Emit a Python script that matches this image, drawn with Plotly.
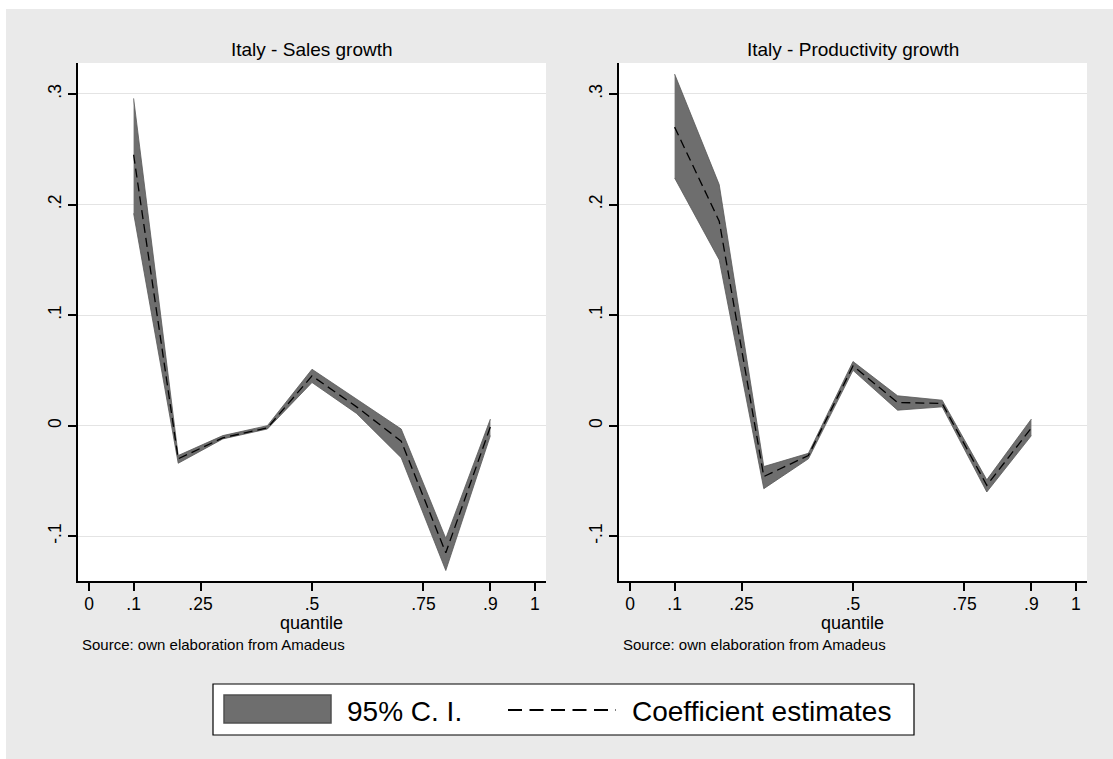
import plotly.graph_objects as go

# ---- data ----
quantiles = [0.1, 0.2, 0.3, 0.4, 0.5, 0.6, 0.7, 0.8, 0.9]

sales_est = [0.245, -0.030, -0.011, -0.002, 0.045, 0.017, -0.014, -0.115, -0.001]
sales_lo = [0.192, -0.034, -0.012, -0.003, 0.039, 0.011, -0.029, -0.131, -0.009]
sales_hi = [0.296, -0.027, -0.009, -0.000, 0.051, 0.024, -0.003, -0.102, 0.006]

prod_est = [0.270, 0.185, -0.046, -0.027, 0.054, 0.021, 0.020, -0.054, -0.002]
prod_lo = [0.224, 0.150, -0.057, -0.030, 0.050, 0.014, 0.017, -0.060, -0.009]
prod_hi = [0.318, 0.218, -0.037, -0.025, 0.058, 0.027, 0.023, -0.049, 0.006]

panel_titles = ["Italy - Sales growth", "Italy - Productivity growth"]
x_tickvals = [0, 0.1, 0.25, 0.5, 0.75, 0.9, 1]
x_ticktext = ["0", ".1", ".25", ".5", ".75", ".9", "1"]
y_tickvals = [-0.1, 0, 0.1, 0.2, 0.3]
y_ticktext = ["-.1", "0", ".1", ".2", ".3"]
legend_labels = ["95% C. I.", "Coefficient estimates"]
source_text = "Source: own elaboration from Amadeus"
x_title = "quantile"

W, H = 1113, 759
FONT = "Liberation Sans, Arial, sans-serif"
BAND = "#6e6e6e"
BAND_EDGE = "#585858"

def px_x(p):
    return p / W

def px_y(p):
    return 1 - p / H

fig = go.Figure()

panels = [
    (sales_est, sales_lo, sales_hi, "x", "y"),
    (prod_est, prod_lo, prod_hi, "x2", "y2"),
]
for est, lo, hi, xa, ya in panels:
    fig.add_trace(go.Scatter(x=quantiles, y=hi, mode="lines", xaxis=xa, yaxis=ya,
                             line=dict(color=BAND_EDGE, width=0.8), showlegend=False,
                             hoverinfo="skip"))
    fig.add_trace(go.Scatter(x=quantiles, y=lo, mode="lines", xaxis=xa, yaxis=ya,
                             fill="tonexty", fillcolor=BAND,
                             line=dict(color=BAND_EDGE, width=0.8), showlegend=False,
                             hoverinfo="skip"))
    fig.add_trace(go.Scatter(x=quantiles, y=est, mode="lines", xaxis=xa, yaxis=ya,
                             line=dict(color="black", width=1.3, dash="9px,5px"),
                             showlegend=False))

xr = [-0.0247, 1.0247]
yr = [-0.1405, 0.328]

def xaxis_def(domain):
    return dict(domain=domain, range=xr, tickvals=x_tickvals, ticktext=x_ticktext,
                showline=True, linecolor="black", linewidth=1.5, ticks="outside",
                ticklen=8, tickwidth=1.5, tickcolor="black", showgrid=False,
                zeroline=False, tickfont=dict(family=FONT, size=17.5, color="black"),
                ticklabelstandoff=-2, fixedrange=True)

def yaxis_def(domain, anchor):
    return dict(domain=domain, range=yr, tickvals=y_tickvals, ticktext=y_ticktext,
                showline=True, linecolor="black", linewidth=1.5, ticks="outside",
                ticklen=8, tickwidth=1.5, tickcolor="black", showgrid=True,
                gridcolor="#e4e4e4", gridwidth=1, zeroline=False, tickangle=-90,
                anchor=anchor,
                tickfont=dict(family=FONT, size=17.5, color="black"), fixedrange=True)

ydom = [px_y(581), px_y(63)]
left_dom = [px_x(78), px_x(546)]
right_dom = [px_x(619), px_x(1087)]

annotations = []
for title, dom in zip(panel_titles, [left_dom, right_dom]):
    annotations.append(dict(text=title, x=(dom[0] + dom[1]) / 2, y=px_y(50),
                            xref="paper", yref="paper", showarrow=False,
                            xanchor="center", yanchor="middle",
                            font=dict(family=FONT, size=19, color="black")))
    annotations.append(dict(text=x_title, x=(dom[0] + dom[1]) / 2 - px_x(1), y=px_y(623),
                            xref="paper", yref="paper", showarrow=False,
                            xanchor="center", yanchor="middle",
                            font=dict(family=FONT, size=18, color="black")))
for sx in [80, 621]:
    annotations.append(dict(text=source_text, x=px_x(sx), y=px_y(644),
                            xref="paper", yref="paper", showarrow=False,
                            xanchor="left", yanchor="middle",
                            font=dict(family=FONT, size=15, color="black")))
annotations.append(dict(text=legend_labels[0], x=px_x(345), y=px_y(711),
                        xref="paper", yref="paper", showarrow=False,
                        xanchor="left", yanchor="middle",
                        font=dict(family=FONT, size=28, color="black")))
annotations.append(dict(text=legend_labels[1], x=px_x(630), y=px_y(711),
                        xref="paper", yref="paper", showarrow=False,
                        xanchor="left", yanchor="middle",
                        font=dict(family=FONT, size=28, color="black")))

shapes = [
    # white outer strips
    dict(type="rect", xref="paper", yref="paper", x0=0, x1=1, y0=px_y(9), y1=1,
         fillcolor="white", line=dict(width=0), layer="below"),
    dict(type="rect", xref="paper", yref="paper", x0=0, x1=px_x(6), y0=0, y1=1,
         fillcolor="white", line=dict(width=0), layer="below"),
    # legend box
    dict(type="rect", xref="paper", yref="paper", x0=px_x(213), x1=px_x(914),
         y0=px_y(735), y1=px_y(684), fillcolor="white",
         line=dict(color="black", width=1.2)),
    dict(type="rect", xref="paper", yref="paper", x0=px_x(224), x1=px_x(331),
         y0=px_y(723), y1=px_y(695), fillcolor=BAND,
         line=dict(color="#505050", width=1.5)),
    dict(type="line", xref="paper", yref="paper", x0=px_x(508), x1=px_x(616),
         y0=px_y(710), y1=px_y(710),
         line=dict(color="black", width=2, dash="14px,7.5px")),
]

fig.update_layout(
    width=W, height=H, autosize=False,
    margin=dict(l=0, r=0, t=0, b=0, pad=0),
    paper_bgcolor="#eaeaea", plot_bgcolor="white",
    xaxis=xaxis_def(left_dom) | dict(anchor="y"),
    yaxis=yaxis_def(ydom, "x"),
    xaxis2=xaxis_def(right_dom) | dict(anchor="y2"),
    yaxis2=yaxis_def(ydom, "x2"),
    annotations=annotations, shapes=shapes, showlegend=False,
    font=dict(family=FONT, color="black"),
)

fig.write_html(
    "out.html",
    config={"displayModeBar": False},
    post_script="document.body.style.margin='0';document.body.style.overflow='hidden';",
)
